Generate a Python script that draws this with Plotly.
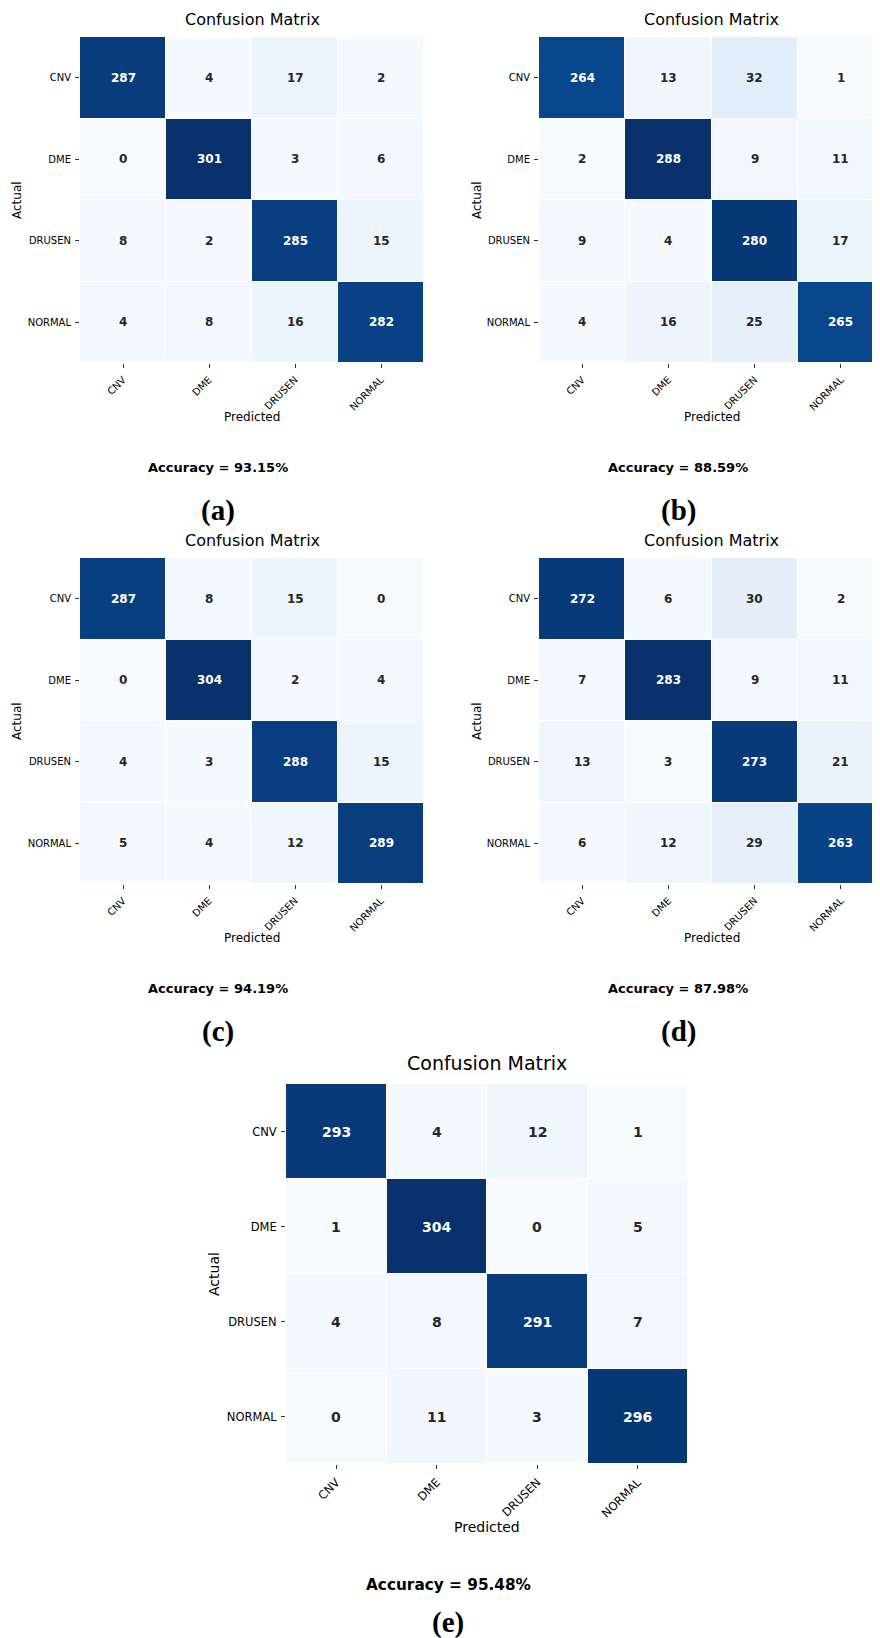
import plotly.graph_objects as go

# ---------------- data ----------------
categories = ["CNV", "DME", "DRUSEN", "NORMAL"]

cm_a = [[287, 4, 17, 2], [0, 301, 3, 6], [8, 2, 285, 15], [4, 8, 16, 282]]
cm_b = [[264, 13, 32, 1], [2, 288, 9, 11], [9, 4, 280, 17], [4, 16, 25, 265]]
cm_c = [[287, 8, 15, 0], [0, 304, 2, 4], [4, 3, 288, 15], [5, 4, 12, 289]]
cm_d = [[272, 6, 30, 2], [7, 283, 9, 11], [13, 3, 273, 21], [6, 12, 29, 263]]
cm_e = [[293, 4, 12, 1], [1, 304, 0, 5], [4, 8, 291, 7], [0, 11, 3, 296]]

matrices = [cm_a, cm_b, cm_c, cm_d, cm_e]
accuracies = ["93.15%", "88.59%", "94.19%", "87.98%", "95.48%"]
panel_labels = ["(a)", "(b)", "(c)", "(d)", "(e)"]
chart_title = "Confusion Matrix"
x_title = "Predicted"
y_title = "Actual"

# ---------------- style / layout ----------------
W, H = 880, 1638
blues = ["#f7fbff", "#deebf7", "#c6dbef", "#9ecae1", "#6baed6",
         "#4292c6", "#2171b5", "#08519c", "#08306b"]
colorscale = [[i / (len(blues) - 1), c] for i, c in enumerate(blues)]

small = dict(tick=10, annot=12, title=16, axis=12, acc=13, lab=29)
large = dict(tick=11.5, annot=14, title=19, axis=14, acc=15.3, lab=29)
off = 521
specs = [
    dict(x0=72, x1=416, y0=29, y1=355, ty=12, py=409, ax=9, accx=210, accy=459, lx=210, ly=502, f=small),
    dict(x0=531, x1=876, y0=29, y1=355, ty=12, py=409, ax=469, accx=670, accy=459, lx=670, ly=502, f=small),
    dict(x0=72, x1=416, y0=29 + off, y1=355 + off, ty=12 + off, py=409 + off, ax=9, accx=210, accy=459 + off, lx=210, ly=502 + off, f=small),
    dict(x0=531, x1=876, y0=29 + off, y1=355 + off, ty=12 + off, py=409 + off, ax=469, accx=670, accy=459 + off, lx=670, ly=502 + off, f=small),
    dict(x0=278, x1=680, y0=1076, y1=1456, ty=1055, py=1519, ax=206, accx=440, accy=1577, lx=440, ly=1614, f=large),
]

FONT = "DejaVu Sans"


def px(x):
    return x / W


def py(y):
    return 1 - y / H


def hex_to_rgb(h):
    h = h.lstrip("#")
    return [int(h[i:i + 2], 16) for i in (0, 2, 4)]


def cmap(t):
    t = min(max(t, 0.0), 1.0)
    n = len(blues) - 1
    i = min(int(t * n), n - 1)
    f = t * n - i
    a, b = hex_to_rgb(blues[i]), hex_to_rgb(blues[i + 1])
    return [a[k] + (b[k] - a[k]) * f for k in range(3)]


def luminance(rgb):
    out = []
    for c in rgb:
        c = c / 255
        out.append(c / 12.92 if c <= 0.03928 else ((c + 0.055) / 1.055) ** 2.4)
    return 0.2126 * out[0] + 0.7152 * out[1] + 0.0722 * out[2]


fig = go.Figure()
annotations = []

for k, (z, s) in enumerate(zip(matrices, specs)):
    idx = "" if k == 0 else str(k + 1)
    xa, ya = "x" + idx, "y" + idx
    zmin = min(min(r) for r in z)
    zmax = max(max(r) for r in z)
    fig.add_trace(go.Heatmap(
        z=z, x=categories, y=categories, xaxis=xa, yaxis=ya,
        colorscale=colorscale, zmin=zmin, zmax=zmax, showscale=False,
        xgap=1, ygap=1, hoverinfo="skip",
    ))
    f = s["f"]
    common = dict(
        showgrid=False, zeroline=False, showline=False,
        ticks="outside", ticklen=4, tickwidth=1, tickcolor="#333333",
        ticklabelstandoff=2,
        tickfont=dict(family=FONT, size=f["tick"], color="black"),
    )
    fig.layout["xaxis" + idx] = dict(
        domain=[px(s["x0"]), px(s["x1"])], anchor=ya, tickangle=-45,
        categoryorder="array", categoryarray=categories, **common)
    fig.layout["yaxis" + idx] = dict(
        domain=[py(s["y1"]), py(s["y0"])], anchor=xa, autorange="reversed",
        categoryorder="array", categoryarray=categories, **common)

    for i, row_name in enumerate(categories):
        for j, col_name in enumerate(categories):
            v = z[i][j]
            t = (v - zmin) / (zmax - zmin)
            col = "#262626" if luminance(cmap(t)) > 0.408 else "white"
            annotations.append(dict(
                x=col_name, y=row_name, xref=xa, yref=ya, text="<b>%d</b>" % v,
                showarrow=False, font=dict(family=FONT, size=f["annot"], color=col)))

    cx = (s["x0"] + s["x1"]) / 2
    cy = (s["y0"] + s["y1"]) / 2
    annotations += [
        dict(x=px(cx), y=py(s["ty"]), xref="paper", yref="paper", text=chart_title,
             showarrow=False, xanchor="center", yanchor="middle",
             font=dict(family=FONT, size=f["title"], color="black")),
        dict(x=px(cx), y=py(s["py"]), xref="paper", yref="paper", text=x_title,
             showarrow=False, xanchor="center", yanchor="middle",
             font=dict(family=FONT, size=f["axis"], color="black")),
        dict(x=px(s["ax"]), y=py(cy), xref="paper", yref="paper", text=y_title,
             showarrow=False, xanchor="center", yanchor="middle", textangle=-90,
             font=dict(family=FONT, size=f["axis"], color="black")),
        dict(x=px(s["accx"]), y=py(s["accy"]), xref="paper", yref="paper",
             text="<b>Accuracy = %s</b>" % accuracies[k],
             showarrow=False, xanchor="center", yanchor="middle",
             font=dict(family=FONT, size=f["acc"], color="black")),
        dict(x=px(s["lx"]), y=py(s["ly"]), xref="paper", yref="paper",
             text="<b>%s</b>" % panel_labels[k], borderpad=0,
             showarrow=False, xanchor="center", yanchor="middle",
             font=dict(family="Liberation Serif", size=f["lab"], color="black")),
    ]

fig.update_layout(
    width=W, height=H, margin=dict(l=0, r=0, t=0, b=0),
    paper_bgcolor="white", plot_bgcolor="white",
    showlegend=False, annotations=annotations,
)

fig.write_html("out.html")
